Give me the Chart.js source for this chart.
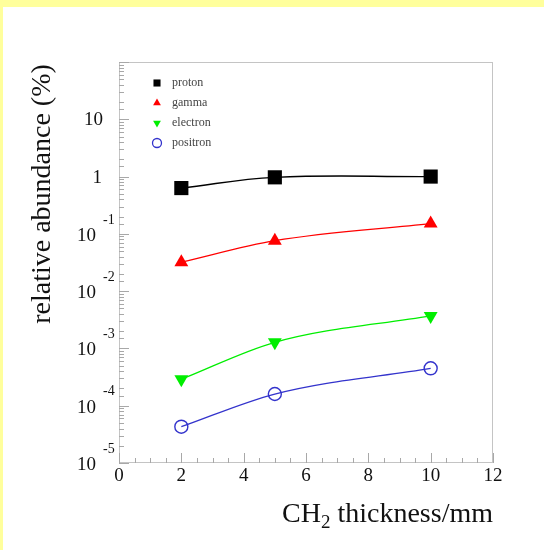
<!DOCTYPE html>
<html>
<head>
<meta charset="utf-8">
<script src="https://cdn.jsdelivr.net/npm/chart.js@4.4.1/dist/chart.umd.min.js"></script>
<style>
  html, body { margin: 0; padding: 0; background: #fff; }
  #wrap { width: 544px; height: 550px; }
</style>
</head>
<body>
<div id="wrap"><canvas id="chart" width="544" height="550"></canvas></div>
<script>
// thickness of the CH2 layer (mm)
const thickness = [2, 5, 10];

// relative abundance (%)
const proton = [0.63, 0.97, 1.0];
const gamma = [0.032, 0.076, 0.151];
const electron = [2.9e-4, 1.28e-3, 3.7e-3];
const positron = [4.3e-5, 1.6e-4, 4.5e-4];

const seriesNames = ["proton", "gamma", "electron", "positron"];
const yDecades = [1, 0, -1, -2, -3, -4, -5];
const xTickLabels = [0, 2, 4, 6, 8, 10, 12];

const serif = '"Liberation Serif", "DejaVu Serif", serif';
const frameColor = "#c4c4c4";

function toPoints(values) {
  return thickness.map((t, i) => ({ x: t, y: values[i] }));
}

const styles = {
  proton: { color: "#000000", pointStyle: "rect", radius: 10, rotation: 0, fill: true },
  gamma: { color: "#ff0000", pointStyle: "triangle", radius: 8, rotation: 0, fill: true },
  electron: { color: "#00ee00", pointStyle: "triangle", radius: 8, rotation: 180, fill: true },
  positron: { color: "#3333cc", pointStyle: "circle", radius: 6.5, rotation: 0, fill: false },
};

const seriesData = { proton, gamma, electron, positron };

function makeDataset(name) {
  const s = styles[name];
  const ds = {
    label: name,
    data: toPoints(seriesData[name]),
    showLine: true,
    borderColor: s.color,
    borderWidth: 1.3,
    pointStyle: s.pointStyle,
    pointRotation: s.rotation,
    pointRadius: s.radius,
    pointHoverRadius: s.radius,
    pointBackgroundColor: s.fill ? s.color : "rgba(0,0,0,0)",
    pointBorderColor: s.color,
    pointBorderWidth: s.fill ? 0 : 1.4,
  };
  // proton fit has a small hump between 5 and 10 mm
  if (name === "proton") ds.tension = 0.4;
  else ds.cubicInterpolationMode = "monotone";
  return ds;
}

// --------------------------------------------------
// ROOT-like frame, inward ticks, labels and legend
// --------------------------------------------------
const rootStyle = {
  id: "rootStyle",
  beforeDraw(chart) {
    const ctx = chart.ctx;
    ctx.save();
    ctx.fillStyle = "#ffffff";
    ctx.fillRect(0, 0, chart.width, chart.height);
    ctx.fillStyle = "#ffff9c";
    ctx.fillRect(0, 0, chart.width, 7);
    ctx.fillRect(0, 0, 3, chart.height);
    ctx.restore();
  },
  beforeDatasetsDraw(chart) {
    const ctx = chart.ctx;
    const a = chart.chartArea;
    const xs = chart.scales.x;
    const ys = chart.scales.y;
    ctx.save();
    ctx.strokeStyle = frameColor;
    ctx.lineWidth = 1;
    ctx.strokeRect(a.left + 0.5, a.top + 0.5, a.right - a.left - 1, a.bottom - a.top - 1);

    ctx.strokeStyle = "#a8a8a8";
    ctx.beginPath();
    ys.ticks.forEach((t) => {
      const lg = Math.log10(t.value);
      const major = Math.abs(lg - Math.round(lg)) < 1e-6;
      const y = Math.round(ys.getPixelForValue(t.value)) + 0.5;
      ctx.moveTo(a.left, y);
      ctx.lineTo(a.left + (major ? 10 : 5), y);
    });
    xs.ticks.forEach((t) => {
      const major = Math.abs(t.value % 2) < 1e-6;
      const x = Math.round(xs.getPixelForValue(t.value)) + 0.5;
      ctx.moveTo(x, a.bottom);
      ctx.lineTo(x, a.bottom - (major ? 10 : 5));
    });
    ctx.stroke();
    ctx.restore();
  },
  afterDraw(chart) {
    const ctx = chart.ctx;
    const a = chart.chartArea;
    const xs = chart.scales.x;
    const ys = chart.scales.y;
    ctx.save();
    ctx.fillStyle = "#111";

    // y tick labels (powers of ten)
    yDecades.forEach((n) => {
      const y = ys.getPixelForValue(Math.pow(10, n));
      ctx.font = "19px " + serif;
      ctx.textBaseline = "middle";
      if (n === 1) {
        ctx.textAlign = "right";
        ctx.fillText("10", a.left - 16, y + 1);
      } else if (n === 0) {
        ctx.textAlign = "right";
        ctx.fillText("1", a.left - 17, y + 1);
      } else {
        ctx.textAlign = "right";
        ctx.fillText("10", a.left - 23, y + 2);
        ctx.font = "14px " + serif;
        ctx.textAlign = "left";
        ctx.fillText(String(n), a.left - 16, y - 14);
      }
    });

    // x tick labels
    ctx.font = "19px " + serif;
    ctx.textAlign = "center";
    ctx.textBaseline = "middle";
    xTickLabels.forEach((v) => {
      ctx.fillText(String(v), xs.getPixelForValue(v), a.bottom + 13);
    });

    // x title: CH2 thickness/mm, right aligned to frame
    const big = "28px " + serif;
    const sub = "19px " + serif;
    ctx.textAlign = "left";
    ctx.textBaseline = "alphabetic";
    ctx.font = big;
    const w1 = ctx.measureText("CH").width;
    const w3 = ctx.measureText(" thickness/mm").width;
    ctx.font = sub;
    const w2 = ctx.measureText("2").width;
    let x0 = a.right - (w1 + w2 + w3);
    const base = 522;
    ctx.font = big;
    ctx.fillText("CH", x0, base);
    ctx.font = sub;
    ctx.fillText("2", x0 + w1, base + 6);
    ctx.font = big;
    ctx.fillText(" thickness/mm", x0 + w1 + w2, base);

    // y title
    ctx.save();
    ctx.translate(43, 194);
    ctx.rotate(-Math.PI / 2);
    ctx.font = big;
    ctx.textAlign = "center";
    ctx.textBaseline = "middle";
    ctx.fillText("relative abundance (%)", 0, 0);
    ctx.restore();

    // legend inside the frame
    seriesNames.forEach((name, i) => {
      const s = styles[name];
      const y = 83 + i * 20;
      ctx.fillStyle = s.fill ? s.color : "rgba(0,0,0,0)";
      ctx.strokeStyle = s.color;
      ctx.lineWidth = 1.3;
      Chart.helpers.drawPoint(ctx, {
        pointStyle: s.pointStyle,
        radius: s.pointStyle === "rect" ? 5 : 4.5,
        rotation: s.rotation,
        borderWidth: s.fill ? 0 : 1.3,
      }, 157, y);
      ctx.fillStyle = "#444";
      ctx.font = "12px " + serif;
      ctx.textAlign = "left";
      ctx.textBaseline = "middle";
      ctx.fillText(name, 172, y);
    });
    ctx.restore();
  },
};

new Chart(document.getElementById("chart"), {
  type: "scatter",
  data: {
    datasets: seriesNames.map(makeDataset),
  },
  options: {
    responsive: false,
    animation: false,
    events: [],
    layout: {
      padding: { left: 111, top: 62, right: 51, bottom: 79 },
    },
    plugins: {
      legend: { display: false },
      tooltip: { enabled: false },
    },
    scales: {
      x: {
        type: "linear",
        min: 0,
        max: 12,
        ticks: { display: false, stepSize: 0.5 },
        grid: { display: false },
        border: { display: false },
      },
      y: {
        type: "logarithmic",
        min: 1e-5,
        max: 100,
        ticks: { display: false },
        grid: { display: false },
        border: { display: false },
      },
    },
  },
  plugins: [rootStyle],
});
</script>
</body>
</html>
